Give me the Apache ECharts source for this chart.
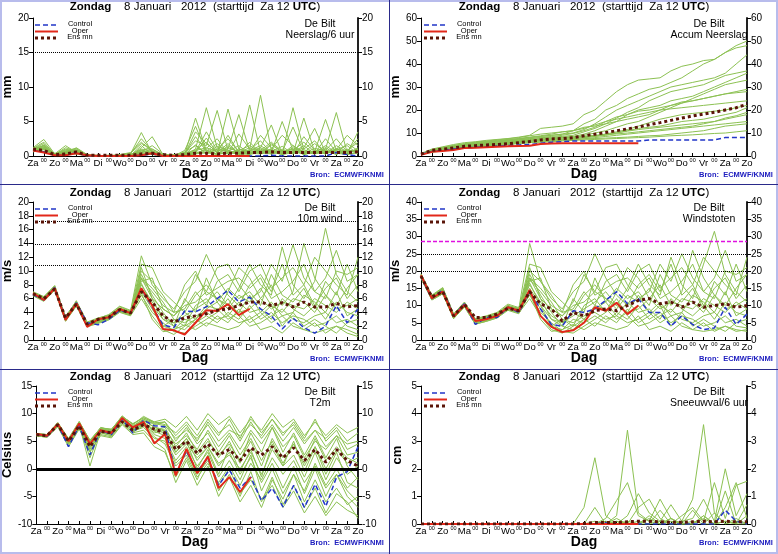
<!DOCTYPE html>
<html>
<head>
<meta charset="utf-8">
<script src="https://cdn.jsdelivr.net/npm/echarts@6.0.0/dist/echarts.min.js"></script>
<style>
  html, body { margin: 0; padding: 0; background: #fff; }
  #chart { width: 778px; height: 554px; }
</style>
</head>
<body>
<div id="chart"></div>
<script>
// tijdas: 12-uurs stappen vanaf Za 12 UTC
const dayLabels = ['Za','00','Zo','00','Ma','00','Di','00','Wo','00','Do','00','Vr','00','Za','00',
                   'Zo','00','Ma','00','Di','00','Wo','00','Do','00','Vr','00','Za','00','Zo'];

// Neerslag/6 uur (mm)
const precipControl = [0.8,0.6,0.1,0.1,0.5,0,0,0,0,0,0.1,0.3,0,0,0,0,0,0,0,0,0,0,0.1,0,0,0,0,0,0.5,0.2,0];
const precipOper = [0.8,0.5,0.1,0.1,0.4,0.1,0,0,0,0,0.1,0.4,0,0,0,0,0,0,0,0,0];
const precipMean = [1.0,0.8,0.2,0.3,0.6,0.1,0.1,0.1,0.1,0.1,0.3,0.4,0.2,0.1,0.2,0.4,0.4,0.3,0.4,0.4,0.5,0.5,0.6,0.5,0.5,0.5,0.5,0.5,0.5,0.5,0.6];
const precipMembers = [
  [0.8,1.0,0.2,0.6,0.8,0.1,0,0,0.1,0.3,3.4,0.4,0.1,0,0.2,5.5,0.8,0.2,1.5,0.4,0.2,1.2,0.3,0.6,1.0,0.2,0.7,0.4,1.1,0.3,0.5],
  [1.2,2.4,0.3,1.5,0.5,0,0,0.1,0,0.1,1.2,2.8,0.2,0,0.1,1.0,7.0,1.2,0.5,0.3,2.0,0.4,0.8,0.2,0.5,1.5,0.3,0.8,0.2,1.0,0.4],
  [0.9,1.5,0.1,0.4,1.2,0.2,0,0,0.2,0.5,2.0,0.6,0,0.1,0.5,2.2,1.5,6.6,0.8,0.4,0.6,3.0,1.2,0.3,1.5,0.6,0.4,2.5,0.6,0.2,1.2],
  [1.0,1.8,0.2,1.0,0.6,0.1,0,0,0.1,0.2,0.6,1.5,0.3,0,0.8,4.3,0.6,0.3,6.8,1.0,0.5,0.8,2.0,0.7,0.3,1.0,2.2,0.4,1.5,0.6,0.8],
  [0.7,1.2,0.4,0.3,0.9,0.2,0.1,0,0.1,0.1,0.8,0.3,0.1,0.2,0.3,0.6,3.5,0.8,1.2,0.6,7.4,0.5,0.3,1.0,0.4,5.5,0.6,1.2,0.3,0.8,2.0],
  [0.8,1.1,0.1,0.5,0.4,0,0,0.1,0,0.2,0.4,0.5,0.2,0.1,0.1,0.3,1.1,2.5,0.4,3.2,1.0,8.8,0.8,0.4,1.2,0.4,0.7,0.3,0.9,1.5,0.3],
  [1.1,1.4,0.2,0.7,0.6,0.1,0,0,0.1,0.1,1.5,0.2,0.1,0,0.2,1.6,0.4,1.0,2.5,0.6,0.8,1.5,0.5,5.0,0.8,2.0,0.6,5.3,0.8,0.4,3.5],
  [0.9,1.0,0.3,0.6,1.0,0.1,0.1,0,0.2,0.3,0.5,1.0,0.1,0,0.4,0.9,2.0,0.4,1.0,6.0,0.7,1.2,4.5,0.3,7.0,0.9,0.4,1.0,6.3,0.5,0.9],
  [0.6,0.9,0.1,0.2,0.3,0,0,0,0,0.1,0.2,0.3,0,0,0.1,0.3,0.5,0.2,0.6,0.2,0.4,0.3,0.6,0.2,0.8,0.5,0.3,0.6,0.4,0.2,0.5],
  [1.0,1.3,0.2,0.5,0.7,0.1,0,0,0.1,0.2,0.9,0.4,0.1,0.1,0.2,0.8,1.2,0.6,0.3,1.0,0.6,0.4,1.8,0.5,0.6,1.2,4.0,0.5,0.9,3.0,1.5],
  [0.8,1.6,0.2,0.9,0.5,0.1,0,0,0.1,0.4,1.8,1.0,0.2,0,0.3,2.8,0.7,1.8,0.5,0.8,1.5,0.6,1.0,3.0,1.5,0.4,1.1,0.8,2.5,0.6,1.0],
  [0.9,1.2,0.3,0.4,0.8,0.2,0,0,0.1,0.2,0.3,0.2,0.1,0,0.1,0.5,2.6,0.5,1.8,0.4,0.9,2.2,0.4,0.8,0.5,0.7,0.5,1.5,0.5,0.9,0.4],
  [1.1,2.0,0.2,1.2,0.7,0.1,0,0,0,0.1,1.0,0.8,0,0,0.6,1.5,0.3,0.9,0.7,1.5,0.3,0.8,0.6,1.4,0.3,2.8,0.8,0.3,1.0,0.7,2.5],
  [0.7,1.0,0.1,0.3,0.5,0,0,0,0.1,0.2,0.5,0.3,0.1,0,0.2,0.4,0.9,0.3,0.4,0.8,0.2,0.6,0.9,0.3,0.6,0.3,0.5,0.9,0.3,0.6,0.7],
  [1.0,1.5,0.2,0.8,1.1,0.1,0,0.1,0.1,0.3,2.5,0.7,0.1,0,0.3,3.5,1.8,0.6,3.0,0.5,1.2,0.4,1.6,0.6,4.2,0.5,1.8,0.6,0.4,1.8,0.8],
  [0.8,1.1,0.2,0.6,0.6,0.1,0,0,0.1,0.1,0.7,0.6,0.1,0,0.1,0.6,0.4,1.4,0.8,0.3,0.5,1.0,0.3,0.7,0.9,0.2,0.6,0.4,0.7,0.3,1.0]
];

// Accum Neerslag (mm)
const accumControl = [0.8,2.0,2.5,3.0,3.5,3.8,4.0,4.3,4.5,4.8,5.0,5.5,6.0,6.2,6.5,6.5,6.5,6.5,6.5,6.5,6.5,7.0,7.0,7.0,7.0,7.0,7.0,7.0,8.0,8.0,8.0];
const accumOper = [0.5,1.8,2.2,2.6,3.5,3.6,3.8,4.0,4.2,4.4,4.5,5.2,5.4,5.5,5.5,5.5,5.5,5.5,5.5,5.5,5.5];
const accumMean = [0.8,2.5,3.0,3.5,4.2,4.5,4.8,5.0,5.3,5.8,6.3,7.0,7.4,7.6,8.0,8.8,9.5,10.2,11.0,11.8,12.6,13.6,14.5,15.5,16.5,17.4,18.2,19.0,20.0,21.0,22.5];
const accumMembers = [
  [1.0,3.0,4.0,5.0,5.8,6.2,6.8,7.2,7.6,8.2,9.0,12.0,12.5,13.0,14.0,18.0,20.0,24.0,28.0,31.0,33.0,33.5,34.0,37.0,39.0,40.0,41.5,42.0,45.0,48.0,50.0],
  [0.8,2.5,3.5,4.2,5.0,5.5,6.0,6.5,7.0,7.5,8.0,8.5,9.0,9.5,11.0,14.0,16.0,20.0,22.0,25.0,27.0,29.0,30.0,32.0,34.0,37.0,40.0,42.0,45.0,47.0,48.0],
  [0.9,2.2,3.2,4.0,4.8,5.2,5.8,6.2,6.6,7.0,7.5,8.0,8.2,8.5,9.0,10.5,12.0,14.0,16.5,19.0,21.0,24.0,26.0,28.0,29.0,30.0,31.0,33.0,35.0,36.0,37.0],
  [0.7,2.0,2.8,3.5,4.2,4.6,5.0,5.4,5.8,6.2,6.8,7.2,7.5,7.8,8.2,9.0,10.0,11.0,12.5,14.0,15.0,17.0,19.0,21.0,23.0,25.0,27.0,29.0,31.0,32.0,33.0],
  [0.8,2.3,3.0,3.8,4.5,5.0,5.5,6.0,6.3,6.8,7.2,7.6,8.0,8.2,8.5,9.5,11.0,13.0,15.0,18.0,20.0,21.0,22.0,24.0,25.0,26.0,28.0,30.0,32.0,34.0,36.0],
  [0.9,2.6,3.6,4.5,5.2,5.8,6.3,6.8,7.2,7.6,8.2,8.8,9.5,10.5,11.0,12.5,13.0,14.0,15.0,16.0,17.0,18.0,20.0,22.0,23.5,24.0,25.0,26.0,27.0,28.0,29.0],
  [0.8,2.0,2.7,3.3,4.0,4.4,4.8,5.2,5.6,6.0,6.4,6.8,7.0,7.2,7.5,8.0,8.5,9.0,10.0,11.0,12.0,12.5,13.0,14.0,15.0,15.5,16.0,17.0,18.0,19.0,21.0],
  [0.7,1.8,2.5,3.0,3.6,4.0,4.4,4.8,5.2,5.5,5.8,6.2,6.5,6.8,7.0,7.5,8.0,8.5,9.0,9.5,10.0,10.5,11.0,11.5,12.0,12.5,13.0,13.5,14.0,14.5,15.0],
  [0.9,2.4,3.3,4.0,4.8,5.2,5.7,6.2,6.6,7.0,7.6,8.0,8.5,9.0,9.8,11.0,12.5,15.0,17.0,18.0,19.5,20.0,21.0,22.0,23.0,24.0,25.0,26.0,27.0,27.5,28.0],
  [0.8,2.2,3.0,3.7,4.4,4.8,5.2,5.6,6.0,6.5,7.0,7.3,7.6,8.0,8.2,8.6,9.0,9.5,10.0,10.8,11.5,12.0,12.5,13.0,13.5,14.0,14.5,15.0,16.0,17.0,18.0],
  [0.6,1.6,2.2,2.8,3.4,3.8,4.2,4.6,5.0,5.4,5.8,6.0,6.2,6.5,6.8,7.0,7.2,7.4,7.6,7.8,8.0,8.2,8.5,8.8,9.0,9.2,9.5,9.8,10.0,10.5,11.0],
  [1.0,2.8,3.8,4.6,5.4,6.0,6.5,7.0,7.5,8.0,8.8,9.5,10.0,10.5,11.0,12.0,13.5,15.0,16.0,17.0,18.0,19.0,20.0,20.5,21.0,21.5,22.0,22.5,23.0,23.5,24.0],
  [0.8,2.1,2.9,3.5,4.2,4.6,5.0,5.4,5.8,6.2,6.6,7.0,7.2,7.4,7.6,8.0,8.5,9.5,10.5,11.5,13.0,14.5,16.0,17.0,18.0,18.5,19.0,19.5,20.0,21.0,22.0],
  [0.7,1.9,2.6,3.2,3.8,4.2,4.6,5.0,5.4,5.8,6.2,6.5,6.8,7.0,7.2,7.4,7.6,7.8,8.0,8.2,8.5,8.8,9.0,9.5,10.0,10.5,11.0,12.0,13.0,13.5,14.0],
  [0.9,2.5,3.4,4.2,5.0,5.5,6.0,6.5,6.8,7.3,8.0,8.5,9.0,9.5,10.0,11.5,14.0,17.0,20.0,22.0,24.0,26.0,28.0,30.0,31.0,32.0,33.0,34.0,36.0,40.0,44.0],
  [0.8,2.2,3.0,3.6,4.4,4.8,5.2,5.6,6.0,6.4,6.8,7.2,7.5,7.8,8.0,8.4,8.8,9.2,9.6,10.0,10.5,11.0,11.5,12.0,12.5,13.0,14.0,15.0,16.5,17.5,19.0]
];

// 10m wind (m/s)
const windControl = [6.6,5.8,7.6,3.0,5.4,2.5,2.2,3.0,4.3,3.9,7.4,4.8,2.2,1.8,4.2,4.1,4.8,6.0,7.2,5.5,6.2,4.5,3.5,1.6,3.2,1.8,1.0,2.0,5.0,2.5,4.5];
const windOper = [6.8,5.8,7.5,2.9,5.3,1.9,3.0,3.3,4.5,3.9,7.5,5.0,1.6,1.4,0.8,2.5,4.3,4.2,5.2,3.6,4.5];
const windMean = [6.7,6.0,7.4,3.2,5.2,2.3,3.0,3.3,4.4,3.9,7.0,5.5,3.5,2.6,3.2,3.5,3.8,4.3,4.5,5.0,5.5,5.5,5.0,5.4,4.8,5.5,4.8,4.8,5.3,4.8,5.0];
const windMembers = [
  [6.9,6.2,7.8,3.4,5.6,2.6,3.2,3.6,4.8,4.2,12.2,8.0,6.0,4.5,7.0,8.5,12.4,9.0,6.5,5.0,8.0,9.5,7.0,11.0,6.5,8.0,5.0,7.5,9.0,6.0,8.0],
  [6.5,5.7,7.3,2.8,5.0,2.0,2.5,3.0,4.2,3.6,10.5,6.0,3.0,2.0,1.5,3.0,4.5,5.5,3.5,2.5,3.0,4.0,2.5,3.5,2.0,1.5,2.5,1.0,2.0,1.5,0.8],
  [6.8,6.0,7.6,3.1,5.4,2.3,2.9,3.4,4.5,4.0,8.5,9.0,4.5,3.5,5.5,9.5,7.0,10.5,11.0,8.0,6.0,7.0,11.0,8.5,13.8,9.0,7.0,6.0,10.0,9.5,10.5],
  [6.6,5.8,7.4,2.9,5.2,2.1,2.7,3.2,4.3,3.8,7.0,4.5,2.0,1.5,3.0,2.5,3.5,2.5,4.0,3.0,5.0,3.0,4.0,2.5,3.5,3.0,2.0,2.5,3.5,2.0,1.5],
  [7.0,6.3,7.9,3.3,5.7,2.5,3.1,3.7,4.9,4.3,9.0,7.5,5.5,3.0,2.0,5.0,6.0,4.0,7.0,10.5,9.0,6.0,8.0,5.0,7.0,14.0,9.0,6.5,5.0,7.5,9.5],
  [6.4,5.6,7.2,2.7,4.9,1.9,2.4,2.9,4.0,3.5,6.0,3.5,1.5,0.8,2.0,3.0,2.0,3.5,2.5,4.5,2.5,3.5,5.0,2.0,4.0,2.0,3.0,2.0,1.0,2.5,3.0],
  [6.8,6.1,7.7,3.2,5.5,2.4,3.0,3.5,4.6,4.1,11.0,10.5,7.0,5.5,4.0,6.5,8.0,6.0,5.0,7.5,11.0,8.0,6.5,13.5,8.0,6.0,8.5,16.2,9.5,7.0,5.5],
  [6.6,5.9,7.5,3.0,5.2,2.2,2.8,3.2,4.3,3.8,8.0,5.5,3.5,2.5,3.5,4.5,5.5,7.0,5.0,4.0,4.5,6.0,4.5,5.5,5.0,4.5,6.0,5.0,4.0,5.5,4.5],
  [6.7,6.0,7.6,3.1,5.3,2.3,2.9,3.3,4.4,3.9,9.5,6.5,4.0,2.0,6.0,4.0,9.0,5.5,7.5,6.0,7.0,5.0,9.5,6.5,5.5,7.5,4.5,8.5,6.5,11.0,7.0],
  [6.5,5.8,7.3,2.9,5.1,2.1,2.6,3.1,4.2,3.7,6.5,4.0,2.5,1.2,1.0,2.0,3.0,4.0,6.0,3.5,2.0,2.5,3.5,4.5,3.0,2.5,3.5,4.0,2.5,3.0,2.0],
  [6.9,6.1,7.7,3.2,5.5,2.4,3.0,3.5,4.6,4.1,8.8,7.0,5.0,4.0,4.5,7.0,5.0,8.5,9.5,7.0,10.0,11.0,7.5,9.0,10.5,8.0,12.0,10.0,8.0,6.5,12.0],
  [6.6,5.9,7.4,3.0,5.2,2.2,2.7,3.2,4.3,3.8,7.5,5.0,2.0,3.0,2.5,3.5,4.0,3.0,3.5,5.5,4.0,4.5,3.0,6.0,4.5,3.5,5.0,3.0,5.5,4.0,3.5],
  [6.7,6.0,7.5,3.1,5.3,2.2,2.8,3.3,4.4,3.9,10.0,8.5,6.5,4.0,8.0,10.0,6.5,7.5,8.5,9.0,7.5,9.0,6.0,7.0,8.5,11.0,7.0,9.0,13.0,8.5,9.5],
  [6.5,5.7,7.3,2.8,5.0,2.0,2.6,3.0,4.1,3.6,6.8,3.0,1.2,1.5,2.2,1.5,2.5,2.0,1.5,2.0,3.5,1.5,2.0,1.0,2.5,1.5,1.0,1.5,2.0,1.0,0.5],
  [6.8,6.0,7.6,3.1,5.4,2.3,2.9,3.4,4.5,4.0,9.0,6.0,4.5,3.5,5.0,5.5,7.0,6.0,4.5,6.5,5.5,7.5,5.0,4.0,6.0,5.5,4.0,6.5,4.5,5.0,6.0],
  [6.7,5.9,7.5,3.0,5.3,2.2,2.8,3.3,4.4,3.9,8.2,5.0,3.0,2.5,4.0,3.0,5.0,4.5,3.0,4.0,6.5,4.0,5.5,3.5,4.0,6.5,5.5,4.0,7.0,3.5,4.5]
];

// Windstoten (m/s)
const gustControl = [18.5,12.0,14.5,7.0,10.5,4.5,6.5,6.5,9.5,8.0,14.0,9.0,4.5,4.0,8.5,8.0,9.0,11.5,14.0,10.5,12.0,8.0,8.0,4.0,7.0,4.5,3.0,3.5,9.5,4.5,7.5];
const gustOper = [18.8,12.1,14.0,6.8,10.2,5.5,6.0,7.0,9.5,8.5,14.5,7.0,3.8,2.3,2.8,5.0,9.5,8.5,10.8,7.5,10.0];
const gustMean = [18.5,12.5,14.0,7.0,10.3,6.5,6.5,7.5,9.2,8.5,14.0,10.5,9.0,5.5,8.0,7.0,8.5,9.0,8.5,10.0,11.5,12.0,10.5,11.0,9.5,11.0,9.5,10.0,10.5,9.5,10.0];
const gustMembers = [
  [19.0,12.8,15.0,7.4,10.8,6.0,6.8,7.6,10.0,9.0,28.0,17.0,12.0,9.0,14.0,17.0,25.0,18.0,13.0,10.0,16.0,19.0,14.0,22.0,13.0,16.0,10.0,15.0,18.0,12.0,16.0],
  [18.2,11.8,13.6,6.4,9.8,4.8,5.6,6.6,9.0,8.0,21.0,12.0,6.0,4.0,3.0,6.0,9.0,11.0,7.0,5.0,6.0,8.0,5.0,7.0,4.0,3.0,5.0,2.5,4.0,3.0,2.5],
  [18.8,12.4,14.4,7.0,10.4,5.6,6.4,7.4,9.6,8.8,17.0,18.0,9.0,7.0,11.0,19.0,14.0,21.0,22.0,16.0,12.0,14.0,22.0,17.0,25.0,18.0,14.0,12.0,20.0,19.0,21.0],
  [18.4,12.0,14.0,6.6,10.0,5.2,6.0,7.0,9.2,8.4,14.0,9.0,4.0,3.0,6.0,5.0,7.0,5.0,8.0,6.0,10.0,6.0,8.0,5.0,7.0,6.0,4.0,5.0,7.0,4.0,3.5],
  [19.2,13.0,15.2,7.6,11.0,6.2,7.0,8.0,10.4,9.4,18.0,15.0,11.0,6.0,4.0,10.0,12.0,8.0,14.0,21.0,18.0,12.0,16.0,10.0,14.0,26.0,18.0,13.0,10.0,15.0,19.0],
  [18.0,11.6,13.4,6.2,9.6,4.6,5.4,6.4,8.8,7.8,12.0,7.0,3.0,2.0,4.0,6.0,4.0,7.0,5.0,9.0,5.0,7.0,10.0,4.0,8.0,4.0,6.0,4.0,2.5,5.0,6.0],
  [18.8,12.6,14.8,7.2,10.6,5.8,6.6,7.6,9.8,9.0,22.0,21.0,14.0,11.0,8.0,13.0,16.0,12.0,10.0,15.0,22.0,16.0,13.0,24.0,16.0,12.0,22.0,31.5,19.0,14.0,11.0],
  [18.4,12.2,14.2,6.8,10.2,5.4,6.2,7.2,9.4,8.6,16.0,11.0,7.0,5.0,7.0,9.0,11.0,14.0,10.0,8.0,9.0,12.0,9.0,11.0,10.0,9.0,12.0,10.0,8.0,11.0,9.0],
  [18.6,12.4,14.6,7.0,10.4,5.6,6.4,7.4,9.6,8.8,19.0,13.0,8.0,4.0,12.0,8.0,18.0,11.0,15.0,12.0,14.0,10.0,19.0,13.0,11.0,15.0,9.0,17.0,13.0,22.0,14.0],
  [18.2,11.8,13.8,6.4,9.8,5.0,5.8,6.8,9.0,8.2,13.0,8.0,5.0,2.5,2.0,4.0,6.0,8.0,12.0,7.0,4.0,5.0,7.0,9.0,6.0,5.0,7.0,8.0,5.0,6.0,4.0],
  [19.0,12.8,15.0,7.4,10.8,6.0,6.8,7.8,10.0,9.2,17.5,14.0,10.0,8.0,9.0,14.0,10.0,17.0,19.0,14.0,20.0,22.0,15.0,18.0,21.0,16.0,24.0,20.0,16.0,13.0,24.0],
  [18.4,12.0,14.0,6.6,10.0,5.2,6.0,7.0,9.2,8.4,15.0,10.0,4.0,6.0,5.0,7.0,8.0,6.0,7.0,11.0,8.0,9.0,6.0,12.0,9.0,7.0,10.0,6.0,11.0,8.0,7.0],
  [18.8,12.6,14.6,7.0,10.4,5.6,6.4,7.4,9.6,8.8,20.0,17.0,13.0,8.0,16.0,20.0,13.0,15.0,17.0,18.0,15.0,18.0,12.0,14.0,17.0,22.0,14.0,18.0,26.0,17.0,19.0],
  [18.0,11.6,13.4,6.2,9.6,4.6,5.4,6.4,8.6,7.6,13.5,6.0,2.5,3.0,4.5,3.0,5.0,4.0,3.0,4.0,7.0,3.0,4.0,2.5,5.0,3.0,2.5,3.0,4.0,2.5,3.0],
  [18.6,12.2,14.4,7.0,10.4,5.6,6.4,7.4,9.6,8.8,18.0,12.0,9.0,7.0,10.0,11.0,14.0,12.0,9.0,13.0,11.0,15.0,10.0,8.0,12.0,11.0,8.0,13.0,9.0,10.0,12.0],
  [18.4,12.0,14.2,6.8,10.2,5.4,6.2,7.2,9.4,8.6,16.5,10.0,6.0,5.0,8.0,6.0,10.0,9.0,6.0,8.0,13.0,8.0,11.0,7.0,8.0,13.0,11.0,8.0,14.0,7.0,9.0]
];

// T2m (Celsius)
const tempControl = [6.2,5.9,8.0,4.0,7.8,2.5,7.0,6.2,9.0,6.5,8.8,7.8,7.6,-1.0,3.2,-0.5,2.0,-3.0,-0.2,-3.5,-1.5,-5.8,-3.5,-6.9,-3.0,-7.0,-2.8,-6.8,-1.5,-0.5,4.0];
const tempOper = [6.3,6.0,8.1,5.0,8.2,4.5,7.0,6.5,9.2,7.5,8.5,4.6,6.3,-1.2,3.6,-0.8,2.2,-3.5,-1.5,-4.2,-1.5];
const tempMean = [6.2,6.0,8.0,5.0,7.8,4.0,6.8,6.5,8.5,7.0,8.0,7.2,6.5,3.5,5.0,2.8,4.5,2.5,3.5,1.5,3.8,2.5,4.0,2.0,3.8,1.5,3.5,1.2,3.5,1.5,0.5];
const tempMembers = [
  [6.4,6.2,8.4,5.5,8.6,5.0,7.5,7.0,9.6,8.0,9.5,8.5,9.0,7.5,9.5,7.0,10.0,8.0,9.5,6.5,9.0,7.0,10.0,7.5,9.0,6.0,8.5,6.0,8.0,6.5,7.5],
  [6.0,5.8,7.8,4.5,7.6,3.5,6.5,6.0,8.8,6.8,7.5,5.5,5.0,1.0,3.0,-1.0,1.5,-3.0,0.0,-4.5,-2.0,-5.5,-3.0,-7.0,-4.0,-8.0,-5.0,-8.5,-6.0,-7.5,-8.5],
  [6.3,6.1,8.2,5.2,8.2,4.8,7.2,6.8,9.2,7.6,9.0,8.0,8.5,5.0,7.5,4.5,6.5,3.0,6.0,2.5,5.5,1.5,5.0,1.0,4.5,0.5,4.0,0.0,3.5,1.0,2.0],
  [6.1,5.9,8.0,4.8,7.8,4.0,6.8,6.2,8.6,7.0,8.0,6.5,7.0,3.0,5.5,1.5,4.0,0.5,3.0,-1.0,2.0,-2.5,1.0,-3.5,0.5,-4.5,0.0,-5.0,-1.0,-4.0,-6.0],
  [6.2,6.0,8.1,5.0,8.0,0.5,6.8,6.4,9.0,7.2,8.5,7.0,7.5,4.0,6.5,3.0,5.5,2.0,5.0,1.0,6.5,3.0,7.5,4.0,6.0,2.0,5.0,3.5,6.0,2.5,3.0],
  [6.0,5.7,7.7,4.2,7.4,3.0,6.2,5.8,8.2,6.5,7.0,5.0,3.5,-2.5,1.5,-3.0,0.5,-5.0,-1.5,-6.0,-3.0,-7.0,-2.0,-5.5,-1.0,-4.0,1.0,-3.0,0.0,-3.5,-1.5],
  [6.4,6.2,8.3,5.4,8.4,5.2,7.4,7.2,9.4,8.2,9.2,8.5,8.0,6.5,8.5,6.0,9.0,6.5,8.0,5.0,8.5,5.5,8.0,5.0,7.5,4.5,7.0,5.5,7.5,5.0,6.5],
  [6.2,6.0,8.0,4.9,8.0,4.2,7.0,6.5,8.8,7.0,8.2,6.8,6.0,2.5,4.5,2.0,4.0,1.0,2.5,0.0,3.0,-1.0,3.5,0.5,2.5,-1.5,3.0,-2.0,2.0,-1.0,0.5],
  [6.3,6.0,8.2,5.1,8.1,4.6,7.1,6.6,9.0,7.4,8.7,7.6,7.0,4.5,6.0,3.5,7.0,4.0,6.5,3.5,7.0,4.5,7.5,3.0,6.5,2.5,6.0,2.0,5.5,0.5,-2.0],
  [6.1,5.8,7.9,4.6,7.7,3.8,6.6,6.0,8.5,6.6,7.8,5.8,4.5,0.5,2.5,-1.5,1.0,-2.5,0.5,-3.0,1.0,-2.0,2.0,-1.0,1.5,-2.5,0.5,-3.5,-1.0,-5.0,-7.0],
  [6.3,6.1,8.1,5.2,8.3,4.9,7.3,6.9,9.3,7.8,9.0,8.2,7.8,5.5,7.0,5.5,8.0,5.0,7.0,6.0,8.0,6.0,9.0,6.5,8.0,5.0,7.0,4.0,6.0,4.5,5.0],
  [6.2,5.9,8.0,4.7,7.9,2.0,6.9,6.3,8.7,6.9,8.0,6.2,5.5,1.5,4.0,0.5,3.0,-1.5,1.5,-2.0,2.5,-4.0,0.0,-4.5,-1.0,-6.0,-2.0,-6.0,-3.5,-6.5,-5.0],
  [6.1,5.9,7.9,4.9,7.8,4.4,6.7,6.3,8.6,7.1,8.3,7.0,6.5,3.5,5.5,2.5,5.0,2.5,4.5,1.5,5.0,0.5,5.5,2.0,4.5,1.0,5.5,1.5,4.0,2.0,1.0],
  [6.3,6.0,8.2,5.0,8.1,4.7,7.2,6.7,9.1,7.5,8.8,7.5,6.8,3.0,5.0,0.0,3.5,-1.0,4.0,-0.5,3.5,-1.5,4.5,0.5,5.0,-0.5,4.0,-1.0,3.0,-2.5,-3.5],
  [6.0,5.7,7.6,4.0,7.2,3.2,6.0,5.6,8.0,6.2,6.5,4.0,3.0,-1.5,2.0,-2.0,2.5,-4.0,-1.0,-5.0,-0.5,-6.0,-1.5,-6.5,-3.0,-7.0,-3.5,-8.0,-4.5,-6.0,-9.0],
  [6.4,6.1,8.3,5.3,8.5,5.1,7.4,7.1,9.5,8.1,9.3,8.3,8.5,6.0,8.0,5.0,8.5,6.0,9.0,5.5,9.5,6.5,9.0,6.0,8.5,5.5,9.0,5.0,7.0,3.5,4.5]
];

// Sneeuwval/6 uur (cm)
const snowControl = [0,0,0,0,0,0,0,0,0,0,0,0,0,0,0,0,0,0.05,0,0,0,0,0,0,0,0,0,0,0.5,0.1,0];
const snowOper = [0,0,0,0,0,0,0,0,0,0,0,0,0,0,0,0,0,0,0,0,0];
const snowMean = [0,0,0,0,0,0,0,0,0,0,0,0,0,0,0,0.02,0.05,0.05,0.05,0.08,0.1,0.1,0.08,0.06,0.06,0.08,0.1,0.08,0.1,0.08,0.08];
const snowMembers = [
  [0,0,0,0,0,0,0,0,0,0,0,0,0,0,0,0.6,2.4,0.3,0,0.1,0,0.2,0,0.1,0,0,0.2,0,0.1,0,0.3],
  [0,0,0,0,0,0,0,0,0,0,0,0,0,0,0,0,0.6,0,0.3,3.4,0.4,0.1,0,0.2,0,0,0.3,0,0.1,0,0],
  [0,0,0,0,0,0,0,0,0,0,0,0,0,0,0,0,0,0.2,0.85,1.5,0.3,0.1,0.9,0.2,0,0.1,0,0.4,0,0.1,0],
  [0,0,0,0,0,0,0,0,0,0,0,0,0,0,0,0,0.1,0,0,0.3,1.1,0.4,0.1,0.7,0.1,0.9,3.6,0.4,0,0.2,0],
  [0,0,0,0,0,0,0,0,0,0,0,0,0,0,0,0,0,0,0.1,0,0.6,0.9,0.2,0,0.3,0.6,0.1,1.5,0.2,1.4,1.55],
  [0,0,0,0,0,0,0,0,0,0,0,0,0,0,0,0,0,0.1,0,0,0.1,0,0.5,0,0.1,0.2,0.9,0.1,2.0,0.3,1.1],
  [0,0,0,0,0,0,0,0,0,0,0,0,0,0,0,0,0,0,0,0,0,0.3,0,0.2,0,0.5,0,0,0.6,1.5,0.2],
  [0,0,0,0,0,0,0,0,0,0,0,0,0,0,0,0,0,0,0.2,0,0,0,0.1,0,0,0,0.3,0,1.2,0,0.7]
];

const FONT = '"Liberation Sans", Arial, Helvetica, sans-serif';
const GREEN = '#8cc152';

const panels = [
  { col: 0, row: 0, unit: 'mm', label: 'Neerslag/6 uur', min: 0, max: 20, step: 5,
    members: precipMembers, control: precipControl, oper: precipOper, mean: precipMean,
    refs: [{ y: 15, color: '#000', type: 'dotted', width: 1 }] },
  { col: 1, row: 0, unit: 'mm', label: 'Accum Neerslag', min: 0, max: 60, step: 10,
    members: accumMembers, control: accumControl, oper: accumOper, mean: accumMean, refs: [] },
  { col: 0, row: 1, unit: 'm/s', label: '10m wind', min: 0, max: 20, step: 2,
    members: windMembers, control: windControl, oper: windOper, mean: windMean,
    refs: [10.8, 13.9, 17.2].map(y => ({ y: y, color: '#000', type: 'dotted', width: 1 })) },
  { col: 1, row: 1, unit: 'm/s', label: 'Windstoten', min: 0, max: 40, step: 5,
    members: gustMembers, control: gustControl, oper: gustOper, mean: gustMean,
    refs: [{ y: 20, color: '#000', type: 'dotted', width: 1 }, { y: 25, color: '#000', type: 'dotted', width: 1 },
           { y: 28.5, color: '#e010e0', type: [4, 2], width: 1.3 }] },
  { col: 0, row: 2, unit: 'Celsius', label: 'T2m', min: -10, max: 15, step: 5,
    members: tempMembers, control: tempControl, oper: tempOper, mean: tempMean,
    refs: [{ y: 0, color: '#000', type: 'solid', width: 3 }] },
  { col: 1, row: 2, unit: 'cm', label: 'Sneeuwval/6 uur', min: 0, max: 5, step: 1,
    members: snowMembers, control: snowControl, oper: snowOper, mean: snowMean, refs: [] }
];

const grids = [], xAxes = [], yAxes = [], series = [], gfx = [];

panels.forEach(function (p, i) {
  const L = p.col ? 421 : 32;
  const T = 18 + p.row * 184;
  grids.push({ left: L, top: T, width: 326, height: 138 });

  xAxes.push({
    type: 'category', gridIndex: i, data: dayLabels, boundaryGap: false,
    axisLine: { onZero: false, lineStyle: { color: '#000', width: 1 } },
    axisTick: { inside: true, length: 3, interval: 0, lineStyle: { color: '#000' } },
    splitLine: { show: false },
    axisLabel: {
      interval: 0, margin: 1,
      formatter: v => v === '00' ? '{s|00}' : '{d|' + v + '}',
      rich: {
        d: { fontSize: 9.5, lineHeight: 10, padding: [2, 0, 0, 0], color: '#000', fontFamily: FONT },
        s: { fontSize: 5.5, lineHeight: 7, color: '#000', fontFamily: FONT }
      }
    }
  });

  const yCommon = {
    type: 'value', gridIndex: i, min: p.min, max: p.max, interval: p.step,
    splitLine: { show: false },
    axisTick: { show: true, length: 4, lineStyle: { color: '#000' } },
    axisLabel: { color: '#000', fontSize: 10, margin: 4, fontFamily: FONT }
  };
  yAxes.push(Object.assign({}, yCommon, {
    position: 'left',
    axisLine: { show: true, onZero: false, lineStyle: { color: '#000', width: 1 } },
    name: p.unit, nameLocation: 'middle', nameRotate: 90, nameGap: 17,
    nameTextStyle: { fontSize: 13, fontWeight: 'bold', color: '#000', fontFamily: FONT }
  }));
  yAxes.push(Object.assign({}, yCommon, {
    position: 'right',
    axisLine: { show: true, onZero: false, lineStyle: { color: '#222', width: 2 } }
  }));

  const base = { type: 'line', xAxisIndex: i, yAxisIndex: 2 * i, symbol: 'none', silent: true, animation: false };

  p.members.forEach(function (m) {
    series.push(Object.assign({}, base, { data: m, lineStyle: { color: GREEN, width: 1 } }));
  });
  if (p.refs.length) {
    series.push(Object.assign({}, base, {
      data: [],
      markLine: {
        silent: true, symbol: 'none', animation: false, label: { show: false },
        data: p.refs.map(r => ({ yAxis: r.y, lineStyle: { color: r.color, type: r.type, width: r.width, opacity: 1 } }))
      }
    }));
  }
  series.push(Object.assign({}, base, { data: p.control, lineStyle: { color: '#2236c8', width: 1.5, type: [5, 3] } }));
  series.push(Object.assign({}, base, { data: p.oper, lineStyle: { color: '#e2281a', width: 2 } }));
  series.push(Object.assign({}, base, { data: p.mean, lineStyle: { color: '#5a1408', width: 3, type: 'dotted' } }));

  // teksten rond het paneel
  gfx.push({
    type: 'text', x: L + 163, y: T - (p.row === 0 ? 11 : 9), z: 50,
    style: {
      text: '{b|Zondag}    8 Januari   2012  (starttijd  Za 12 {b|UTC})',
      rich: { b: { fontWeight: 'bold', fontSize: 11.5, fontFamily: FONT } },
      fontSize: 11.5, fontFamily: FONT, fill: '#000', align: 'center', verticalAlign: 'middle'
    }
  });
  gfx.push({ type: 'text', x: L + 288, y: T + 6, z: 50,
    style: { text: 'De Bilt', fontSize: 10.5, fontFamily: FONT, fill: '#000', align: 'center', verticalAlign: 'middle' } });
  gfx.push({ type: 'text', x: L + 288, y: T + 17, z: 50,
    style: { text: p.label, fontSize: 10.5, fontFamily: FONT, fill: '#000', align: 'center', verticalAlign: 'middle' } });
  gfx.push({ type: 'text', x: L + 163, y: T + 156, z: 50,
    style: { text: 'Dag', fontSize: 14, fontWeight: 'bold', fontFamily: FONT, fill: '#000', align: 'center', verticalAlign: 'middle' } });
  gfx.push({ type: 'text', x: L + 278, y: T + 157, z: 50,
    style: { text: 'Bron:  ECMWF/KNMI', fontSize: 7.5, fontWeight: 'bold', fontFamily: FONT, fill: '#2020c0', align: 'left', verticalAlign: 'middle' } });

  // legenda
  const leg = [
    { name: 'Control', color: '#2236c8', width: 1.5, dash: [5, 3] },
    { name: 'Oper', color: '#e2281a', width: 2, dash: null },
    { name: 'Ens mn', color: '#5a1408', width: 3, dash: [3, 3] }
  ];
  leg.forEach(function (l, k) {
    const ly = T + 7 + k * 6.5;
    gfx.push({ type: 'line', z: 50, shape: { x1: L + 3, y1: ly, x2: L + 26, y2: ly },
      style: { stroke: l.color, lineWidth: l.width, lineDash: l.dash } });
    gfx.push({ type: 'text', x: L + 48, y: ly - 1, z: 50,
      style: { text: l.name, fontSize: 7.5, fontFamily: FONT, fill: '#000', align: 'center', verticalAlign: 'middle' } });
  });
});

// panelscheidingen en rand
gfx.push({ type: 'rect', z: 60, shape: { x: 1, y: 1, width: 776, height: 552 },
  style: { fill: 'transparent', stroke: '#b8bcec', lineWidth: 2 } });
gfx.push({ type: 'line', z: 60, shape: { x1: 389.5, y1: 0, x2: 389.5, y2: 554 }, style: { stroke: '#2a2a8a', lineWidth: 1 } });
gfx.push({ type: 'line', z: 60, shape: { x1: 0, y1: 184.5, x2: 778, y2: 184.5 }, style: { stroke: '#2a2a8a', lineWidth: 1 } });
gfx.push({ type: 'line', z: 60, shape: { x1: 0, y1: 369.5, x2: 778, y2: 369.5 }, style: { stroke: '#2a2a8a', lineWidth: 1 } });

const chart = echarts.init(document.getElementById('chart'));
chart.setOption({
  animation: false,
  backgroundColor: '#fff',
  grid: grids,
  xAxis: xAxes,
  yAxis: yAxes,
  series: series,
  graphic: gfx
});
</script>
</body>
</html>
